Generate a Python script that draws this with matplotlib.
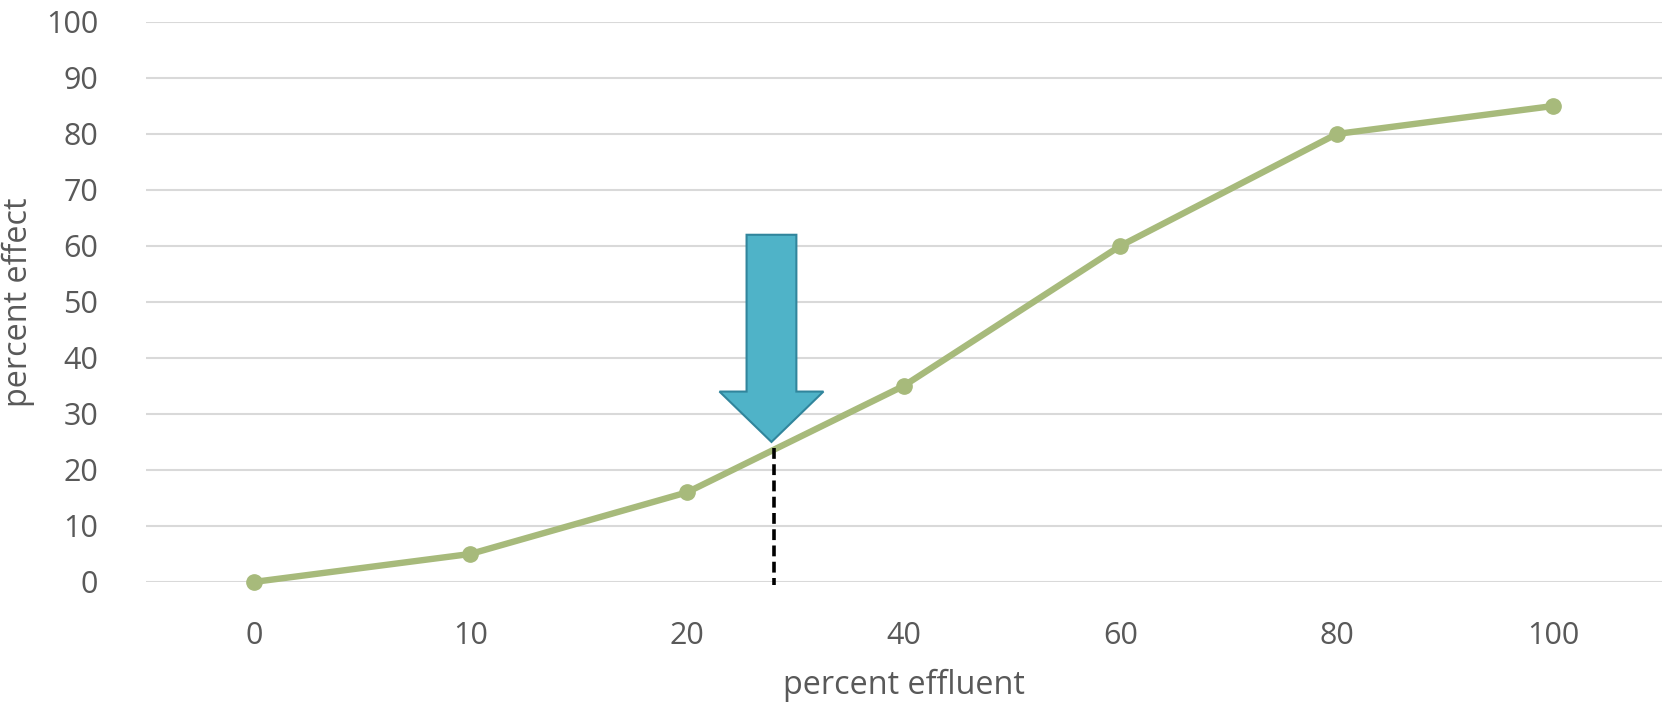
import matplotlib
matplotlib.use("Agg")
import matplotlib.pyplot as plt

# data
effluent_labels = ["0", "10", "20", "40", "60", "80", "100"]
percent_effect = [0, 5, 16, 35, 60, 80, 85]

# marker for the EC25-ish point (category position, value)
marker_x = 2.4
marker_y = 24
arrow_top = 62
arrow_tip = 25

plt.rcParams["font.family"] = ["Open Sans", "DejaVu Sans"]

fig = plt.figure(figsize=(16.65, 7.02), dpi=100)
ax = fig.add_axes([0.0874, 0.171, 0.9106, 0.7977])

xs = list(range(len(effluent_labels)))
ax.plot(xs, percent_effect, color="#A7BA7B", lw=4.6, marker="o",
        markersize=11, solid_capstyle="round", clip_on=False, zorder=3)

# dashed drop line
ax.plot([marker_x, marker_x], [marker_y, -0.6], color="black", lw=2.6,
        ls=(0, (3, 1.5)), clip_on=False, zorder=4)

# big arrow pointing at the curve
ax.arrow(marker_x - 0.01, arrow_top, 0, arrow_tip - arrow_top, width=0.23,
         head_width=0.48, head_length=9.0, length_includes_head=True,
         facecolor="#4FB3C8", edgecolor="#31859C", lw=1.5, zorder=5)

ax.set_xlim(-0.5, len(effluent_labels) - 0.5)
ax.set_ylim(0, 100)
ax.set_xticks(xs)
ax.set_xticklabels(effluent_labels)
ax.set_yticks(range(0, 101, 10))

ax.grid(axis="y", color="#D9D9D9", lw=1.5)
ax.set_axisbelow(True)
for s in ax.spines.values():
    s.set_visible(False)
ax.tick_params(axis="both", length=0, labelsize=22, labelcolor="#595959")
ax.tick_params(axis="y", pad=34)
ax.tick_params(axis="x", pad=28)

ax.set_xlabel("percent effluent", fontsize=23.3, color="#595959", labelpad=13)
ax.set_ylabel("percent effect", fontsize=23.3, color="#595959", labelpad=8)

fig.savefig("out.png", dpi=100, facecolor="white")
